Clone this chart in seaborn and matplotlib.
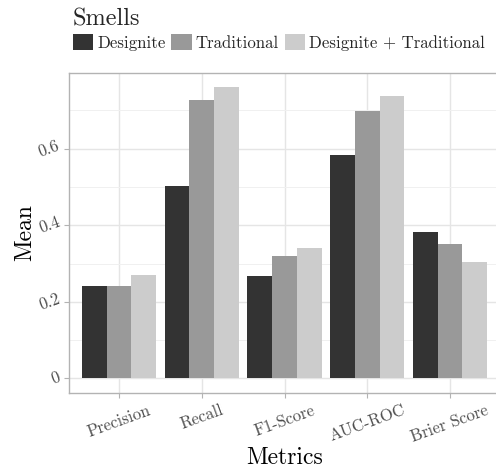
import matplotlib
matplotlib.use("Agg")
import matplotlib.pyplot as plt
import seaborn as sns
import pandas as pd
from matplotlib.patches import Patch
from matplotlib.ticker import FixedLocator

metrics = ["Precision", "Recall", "F1-Score", "AUC-ROC", "Brier Score"]
smells = ["Designite", "Traditional", "Designite + Traditional"]
designite = [0.242, 0.503, 0.268, 0.583, 0.383]
traditional = [0.242, 0.727, 0.320, 0.698, 0.352]
combined = [0.271, 0.760, 0.341, 0.737, 0.305]
colors = ["#333333", "#999999", "#cccccc"]
yticks = [0, 0.2, 0.4, 0.6]
ytick_labels = ["0", "0.2", "0.4", "0.6"]

rows = []
for name, vals in zip(smells, [designite, traditional, combined]):
    for m, v in zip(metrics, vals):
        rows.append({"Metrics": m, "Smells": name, "Mean": v})
df = pd.DataFrame(rows)

sns.set_theme(style="white")
plt.rcParams["font.family"] = ["cmr10", "DejaVu Serif"]
plt.rcParams["axes.formatter.use_mathtext"] = True
plt.rcParams["mathtext.fontset"] = "cm"

W, H = 496, 468
fig = plt.figure(figsize=(W / 100, H / 100), dpi=100)
left, right, top, bottom = 69.4, 499.6, 72.7, 393
ax = fig.add_axes([left / W, 1 - bottom / H, (right - left) / W, (bottom - top) / H])

sns.barplot(data=df, x="Metrics", y="Mean", hue="Smells", order=metrics,
            hue_order=smells, palette=colors, width=0.9, saturation=1,
            gap=0, ax=ax, legend=False, errorbar=None, zorder=3,
            linewidth=0, edgecolor="none")

ax.set_xlim(-0.6, 4.6)
ax.set_ylim(-0.038, 0.798)
ax.yaxis.set_major_locator(FixedLocator(yticks))
ax.set_yticklabels(ytick_labels)
ax.yaxis.set_minor_locator(FixedLocator([0.1, 0.3, 0.5, 0.7]))
ax.set_axisbelow(True)
ax.grid(True, which="major", color="#e5e5e5", linewidth=1.0, zorder=0)
ax.grid(True, which="minor", axis="y", color="#f0f0f0", linewidth=0.7, zorder=0)
for s in ax.spines.values():
    s.set_color("#b3b3b3")
    s.set_linewidth(1.0)
ax.tick_params(axis="both", which="major", length=3.8, width=0.8, color="#b3b3b3",
               labelcolor="#4d4d4d", labelsize=12, pad=3, direction="out",
               bottom=True, left=True)
ax.tick_params(axis="y", which="major", pad=1.6)
ax.tick_params(axis="y", which="minor", length=0)
for lab in ax.get_xticklabels():
    lab.set_rotation(20)
    lab.set_ha("center")
    lab.set_va("top")
for lab in ax.get_yticklabels():
    lab.set_rotation(20)
    lab.set_va("center")
ax.set_xlabel("Metrics", fontsize=17, color="black", labelpad=1.5)
ax.set_ylabel("Mean", fontsize=17, color="black", labelpad=0.5)

handles = [Patch(facecolor=c, edgecolor="none", label=s) for c, s in zip(colors, smells)]
leg = fig.legend(handles=handles, title="Smells", ncol=3, loc="upper left",
                 bbox_to_anchor=(71 / W, 1 - 7 / H), frameon=False,
                 fontsize=12.1, title_fontsize=17.5, handlelength=1.2,
                 handleheight=1.15, handletextpad=0.25, columnspacing=0.36,
                 borderaxespad=0, borderpad=0.1, labelspacing=0.1)
leg._legend_box.align = "left"
leg._legend_box.sep = 2

fig.savefig("out.png", dpi=100)
